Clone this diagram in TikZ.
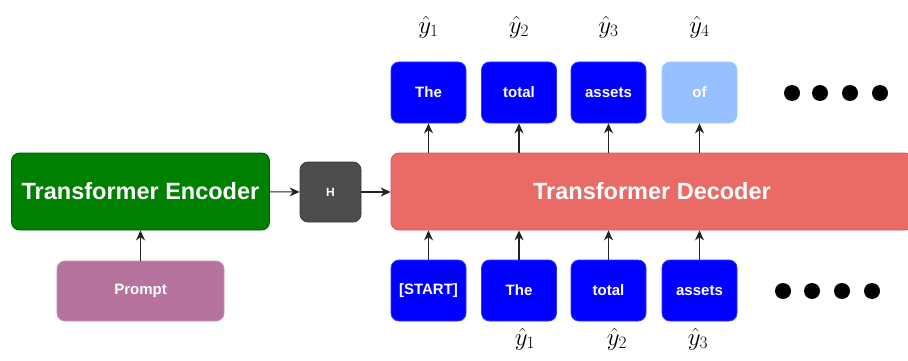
\documentclass[tikz,border=0pt]{standalone}
\usepackage{fontspec}
\setmainfont{Liberation Sans}
\usetikzlibrary{arrows.meta}
\definecolor{encgreen}{HTML}{008000}
\definecolor{encedge}{HTML}{005700}
\definecolor{hgray}{HTML}{4D4D4D}
\definecolor{hedge}{HTML}{3A3A3A}
\definecolor{prompt}{HTML}{B5739D}
\definecolor{promptedge}{HTML}{C690B2}
\definecolor{decred}{HTML}{EA6B66}
\definecolor{decedge}{HTML}{CC5C58}
\definecolor{tokblue}{HTML}{0000FF}
\definecolor{tokedge}{HTML}{3333FF}
\definecolor{tokpale}{HTML}{96C0FF}
\definecolor{paleedge}{HTML}{A9CCFF}
\definecolor{arrowc}{HTML}{222222}
\tikzset{
  x=1pt, y=-1pt,
  block/.style={rounded corners=8pt, line width=0.8pt, text=white,
    font=\bfseries, inner sep=0pt, anchor=center},
  bigblock/.style={block, minimum height=77pt, font=\fontsize{23.5}{26}\selectfont\bfseries},
  token/.style={block, fill=tokblue, draw=tokedge, minimum width=75pt,
    minimum height=61pt, font=\fontsize{15}{17}\selectfont\bfseries},
  palebox/.style={token, fill=tokpale, draw=paleedge},
  flow/.style={draw=arrowc, line width=1.1pt, -{Stealth[length=10pt,width=9pt]}},
  yhat/.style={font=\fontsize{25}{28}\selectfont, text=black},
  dot/.style={fill=black, draw=none}
}
\begin{document}
\begin{tikzpicture}
\clip (0,0) rectangle (908,361);
\fill[white] (0,0) rectangle (908,361);

% encoder side
\node[bigblock, fill=encgreen, draw=encedge, minimum width=258pt] (enc) at (140.5,191.5) {Transformer Encoder};
\node[block, fill=hgray, draw=hedge, minimum width=61pt, minimum height=60pt,
  font=\fontsize{12}{14}\selectfont\bfseries] (h) at (330.5,192) {H};
\node[block, fill=prompt, draw=promptedge, minimum width=167pt, minimum height=60pt,
  font=\fontsize{15}{17}\selectfont\bfseries] (prompt) at (140.5,291) {Prompt};

% decoder, running off the right edge
\node[bigblock, fill=decred, draw=decedge, minimum width=522pt] (dec) at (652,191.5) {Transformer Decoder};

% output tokens
\node[token] (o1) at (428.5,92.5) {The};
\node[token] (o2) at (519,92.5) {total};
\node[token] (o3) at (608.5,92.5) {assets};
\node[palebox] (o4) at (699.5,92.5) {of};

% input tokens
\node[token] (i1) at (428.5,290.5) {[START]};
\node[token] (i2) at (519,290.5) {The};
\node[token] (i3) at (608.5,290.5) {total};
\node[token] (i4) at (699.5,290.5) {assets};

% labels
\node[yhat] (ly1) at (428.5,27) {$\hat{y}_1$};
\node[yhat] (ly2) at (519,27) {$\hat{y}_2$};
\node[yhat] (ly3) at (608.5,27) {$\hat{y}_3$};
\node[yhat] (ly4) at (699.5,27) {$\hat{y}_4$};
\node[yhat] (by1) at (525,339) {$\hat{y}_1$};
\node[yhat] (by2) at (617,339) {$\hat{y}_2$};
\node[yhat] (by3) at (698,339) {$\hat{y}_3$};

% continuation dots
\foreach \x in {792,820,850,880} \fill[dot] (\x,93) circle (8pt);
\foreach \x in {783,812,842,872} \fill[dot] (\x,291) circle (8pt);

% connectors
\draw[flow] (prompt) -- (enc);
\draw[flow] (enc) -- (h);
\draw[flow] (h.east) -- (dec.west |- h.east);
\foreach \k in {1,2,3,4} {
  \draw[flow] (dec.north -| o\k) -- (o\k.south);
  \draw[flow] (i\k.north) -- (dec.south -| i\k);
}
\end{tikzpicture}
\end{document}
